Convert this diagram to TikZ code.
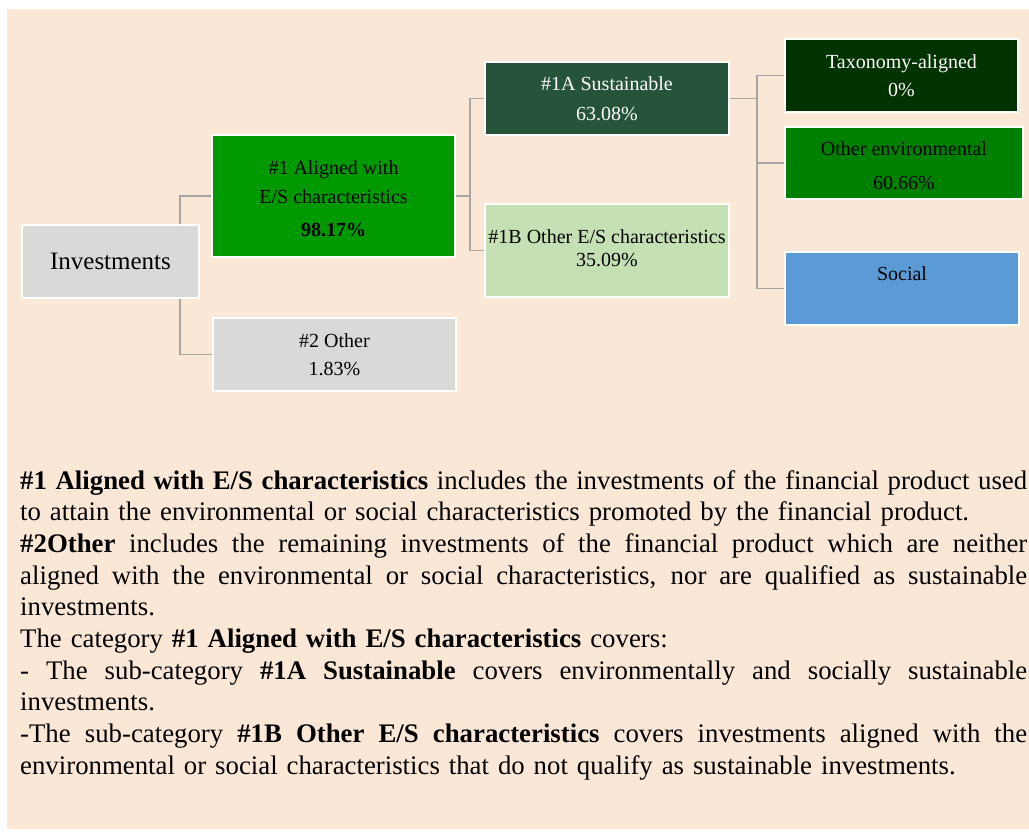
\documentclass[tikz,border=0pt]{standalone}
\usepackage{fontspec}
\setmainfont{Liberation Serif}
\definecolor{bgpeach}{RGB}{251,231,214}
\definecolor{boxgray}{RGB}{217,217,217}
\definecolor{greenA}{RGB}{0,153,0}
\definecolor{greenS}{RGB}{38,84,58}
\definecolor{greenB}{RGB}{197,224,180}
\definecolor{greenT}{RGB}{0,51,0}
\definecolor{greenE}{RGB}{0,128,0}
\definecolor{blueS}{RGB}{91,155,213}
\definecolor{connGray}{RGB}{166,166,166}
\newcommand\jline[1]{{\spaceskip=0pt\xspaceskip=0pt\makebox[1007pt][s]{#1}}}
\begin{document}
\begin{tikzpicture}[x=1pt,y=-1pt,
  box/.style={draw=white, line width=2pt, inner sep=0pt},
  txt/.style={inner sep=0pt, align=center, font=\fontsize{20}{28}\selectfont},
  conn/.style={draw=connGray, line width=1.4pt}]
\useasboundingbox (0,0) rectangle (1029,831);
\fill[bgpeach] (7,9) rectangle (1029,829);

% boxes
\node[box, fill=boxgray, minimum width=177pt, minimum height=73pt] (inv) at (110.5,261.5) {};
\node[box, fill=greenA, minimum width=243pt, minimum height=122pt] (a1) at (333.5,196) {};
\node[box, fill=boxgray, minimum width=243pt, minimum height=73pt] (oth) at (334.5,354.5) {};
\node[box, fill=greenS, minimum width=244pt, minimum height=73pt] (s1a) at (607,98.5) {};
\node[box, fill=greenB, minimum width=244pt, minimum height=93pt] (s1b) at (607,250.5) {};
\node[box, fill=greenT, minimum width=233pt, minimum height=73pt] (tax) at (901.5,75.5) {};
\node[box, fill=greenE, minimum width=238pt, minimum height=72pt] (env) at (904,163) {};
\node[box, fill=blueS, minimum width=234pt, minimum height=73pt] (soc) at (902,288.5) {};

% box texts
\node[txt, font=\fontsize{25}{28}\selectfont] (invt) at (inv) {Investments};
\node[txt, font=\fontsize{20}{29}\selectfont, yshift=-3pt] (a1t) at (a1) {\#1 Aligned with\\E/S characteristics\\[4pt]\textbf{98.17\%}};
\node[txt] (otht) at (oth) {\#2 Other\\1.83\%};
\node[txt, text=white, font=\fontsize{20}{30}\selectfont] (s1at) at (s1a) {\#1A Sustainable\\63.08\%};
\node[txt, font=\fontsize{20}{23}\selectfont, yshift=2pt] (s1bt) at (s1b) {\#1B Other E/S characteristics\\35.09\%};
\node[txt, text=white] (taxt) at (tax) {Taxonomy-aligned\\0\%};
\node[txt, font=\fontsize{20}{34}\selectfont, yshift=-3pt] (envt) at (env) {Other environmental\\60.66\%};
\node[txt, yshift=-3pt] (soct) at (soc) {Social\\\strut};

% junction coordinates
\coordinate (j0) at (180,0);
\coordinate (j1) at (470,0);
\coordinate (j2) at (757,0);

% connectors
\draw[conn] (inv.north -| j0) |- (a1.west);
\draw[conn] (inv.south -| j0) |- (oth.west);
\draw[conn] (a1.east) -| (j1 |- s1a.west) -- (s1a.west);
\draw[conn] (a1.east -| j1) |- (s1b.west);
\draw[conn] (s1a.east) -| (j2 |- tax.west) -- (tax.west);
\draw[conn] (s1a.east -| j2) |- (env.west);
\draw[conn] (s1a.east -| j2) |- (soc.west);

% description
\node[anchor=north west, inner sep=0pt, text width=1007pt, align=left,
  font=\fontsize{26.8}{31.7}\selectfont] (desc) at (20,470) {%
\jline{\textbf{\#1 Aligned with E/S characteristics} includes the investments of the financial product used}\\
to attain the environmental or social characteristics promoted by the financial product.\\
\jline{\textbf{\#2Other} includes the remaining investments of the financial product which are neither}\\
\jline{aligned with the environmental or social characteristics, nor are qualified as sustainable}\\
investments.\\
The category \textbf{\#1 Aligned with E/S characteristics} covers:\\
\jline{- The sub-category \textbf{\#1A Sustainable} covers environmentally and socially sustainable}\\
investments.\\
\jline{-The sub-category \textbf{\#1B Other E/S characteristics} covers investments aligned with the}\\
environmental or social characteristics that do not qualify as sustainable investments.};
\end{tikzpicture}
\end{document}
